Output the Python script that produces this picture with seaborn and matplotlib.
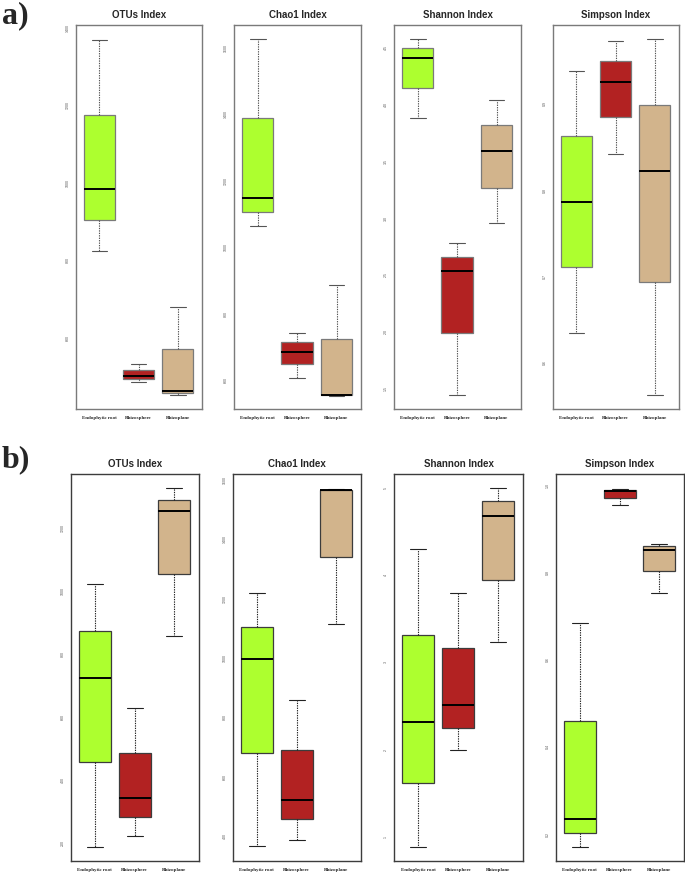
import pandas as pd
import matplotlib.pyplot as plt
import seaborn as sns

# five-number summaries: [min, q1, median, q3, max]
groups = ['Endophytic root', 'Rhizosphere', 'Rhizoplane']
colors = ['#ADFF2F', '#B22222', '#D2B48C']

a_otus = [[820, 900, 982, 1173, 1366], [482, 490, 498, 514, 529], [449, 454, 459, 568, 676]]
a_chao1 = [[1062, 1104, 1146, 1386, 1624], [603, 644, 683, 713, 740], [550, 552, 553, 722, 884]]
a_shannon = [[3.87, 4.14, 4.40, 4.49, 4.57], [1.43, 1.98, 2.52, 2.65, 2.77], [2.95, 3.26, 3.58, 3.81, 4.03]]
a_simpson = [[0.633, 0.710, 0.785, 0.862, 0.937], [0.841, 0.883, 0.924, 0.948, 0.972], [0.562, 0.692, 0.821, 0.897, 0.974]]

b_otus = [[184, 452, 720, 870, 1020], [217, 277, 339, 481, 626], [855, 1053, 1253, 1288, 1324]]
b_chao1 = [[361, 675, 992, 1102, 1216], [383, 453, 519, 686, 855], [1111, 1336, 1562, 1564, 1566]]
b_shannon = [[0.87, 1.60, 2.31, 3.30, 4.29], [1.98, 2.24, 2.50, 3.15, 3.79], [3.22, 3.94, 4.67, 4.84, 4.99]]
b_simpson = [[0.169, 0.200, 0.232, 0.457, 0.682], [0.952, 0.969, 0.985, 0.987, 0.989], [0.750, 0.800, 0.849, 0.857, 0.863]]

titles = ['OTUs Index', 'Chao1 Index', 'Shannon Index', 'Simpson Index']

a_ticks = [[600, 800, 1000, 1200, 1400], [600, 800, 1000, 1200, 1400, 1600],
           [1.5, 2.0, 2.5, 3.0, 3.5, 4.0, 4.5], [0.6, 0.7, 0.8, 0.9]]
a_ticklabels = [['600', '800', '1000', '1200', '1400'], ['600', '800', '1000', '1200', '1400', '1600'],
                ['1.5', '2.0', '2.5', '3.0', '3.5', '4.0', '4.5'], ['0.6', '0.7', '0.8', '0.9']]
b_ticks = [[200, 400, 600, 800, 1000, 1200], [400, 600, 800, 1000, 1200, 1400, 1600],
           [1, 2, 3, 4, 5], [0.2, 0.4, 0.6, 0.8, 1.0]]
b_ticklabels = [['200', '400', '600', '800', '1000', '1200'], ['400', '600', '800', '1000', '1200', '1400', '1600'],
                ['1', '2', '3', '4', '5'], ['0.2', '0.4', '0.6', '0.8', '1.0']]

a_ylims = [(413, 1405), (510, 1666), (1.306, 4.694), (0.5455, 0.990)]
b_ylims = [(138, 1370), (312, 1617), (0.709, 5.153), (0.136, 1.023)]

sns.set_theme(style="white")
plt.rcParams['font.family'] = ['Liberation Sans', 'DejaVu Sans']

W, H = 685, 879
fig = plt.figure(figsize=(W / 100, H / 100), dpi=100)

# panel rectangles in pixels: (left, right, top, bottom)
a_rects = [(76, 202, 26, 410), (234, 361, 26, 410), (394, 521, 26, 410), (553, 679, 26, 410)]
b_rects = [(71, 199, 475, 862), (233, 361, 475, 862), (394, 523, 475, 862), (556, 684, 475, 862)]


def draw_row(datasets, rects, ticks, ticklabels, ylims, edge, whisk):
    for data, (l, r, t, b), yt, ytl, yl, title in zip(datasets, rects, ticks, ticklabels, ylims, titles):
        ax = fig.add_axes([l / W, 1 - b / H, (r - l) / W, (b - t) / H])
        df = pd.DataFrame([(g, v) for g, vals in zip(groups, data) for v in vals],
                          columns=['site', 'value'])
        sns.boxplot(data=df, x='site', y='value', hue='site', order=groups, hue_order=groups,
                    palette=colors, saturation=1, whis=(0, 100), width=0.8, showfliers=False,
                    legend=False, linecolor=edge, linewidth=0.9,
                    whiskerprops=dict(linestyle=(0, (1.2, 1.0)), color=whisk, linewidth=0.8),
                    capprops=dict(color=whisk, linewidth=0.8),
                    medianprops=dict(color='black', linewidth=1.4),
                    ax=ax)
        ax.set_xlim(-0.6, 2.62)
        ax.set_ylim(*yl)
        ax.set_yticks(yt)
        ax.set_yticklabels(ytl, rotation=90, va='center', fontsize=2.6, color='#555555')
        ax.set_xticks(range(3))
        ax.set_xticklabels(groups, fontsize=3.6, fontweight='bold', family='Liberation Serif')
        ax.set_xlabel('')
        ax.set_ylabel('')
        ax.tick_params(direction='out', length=2.5, width=0.5, color=edge, pad=2)
        for s in ax.spines.values():
            s.set_visible(True)
            s.set_color(edge)
            s.set_linewidth(1.0)
        ax.set_title(title, fontsize=7, fontweight='bold', pad=6)


draw_row([a_otus, a_chao1, a_shannon, a_simpson], a_rects, a_ticks, a_ticklabels, a_ylims,
         '#7a7a7a', '#555555')
draw_row([b_otus, b_chao1, b_shannon, b_simpson], b_rects, b_ticks, b_ticklabels, b_ylims,
         '#3c3c3c', '#222222')

fig.text(2 / W, 1 - 1 / H, 'a)', fontsize=23, fontweight='bold', family='Liberation Serif', va='top', ha='left')
fig.text(2 / W, 1 - 445 / H, 'b)', fontsize=23, fontweight='bold', family='Liberation Serif', va='top', ha='left')

plt.savefig('out.png', dpi=100)
plt.close()
